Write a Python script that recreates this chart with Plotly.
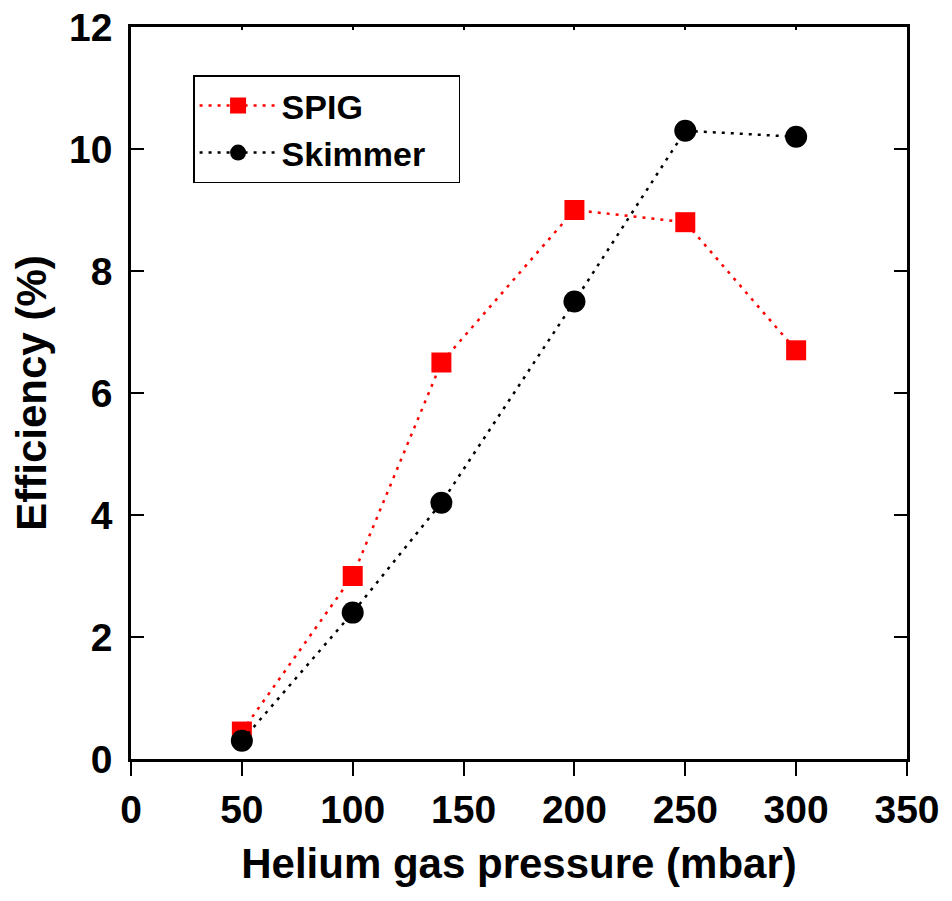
import plotly.graph_objects as go

pressure = [50, 100, 140, 200, 250, 300]
spig = [0.45, 3.0, 6.5, 9.0, 8.8, 6.7]
skimmer = [0.3, 2.4, 4.2, 7.5, 10.3, 10.2]
x_ticks = [0, 50, 100, 150, 200, 250, 300, 350]
y_ticks = [0, 2, 4, 6, 8, 10, 12]

FONT = "Liberation Sans, Arial, sans-serif"

fig = go.Figure()
fig.add_trace(go.Scatter(
    x=pressure, y=spig, name="SPIG", mode="lines+markers",
    line=dict(color="#ff0000", width=2.5, dash="3px,6px"),
    marker=dict(symbol="square", size=20, color="#ff0000"),
))
fig.add_trace(go.Scatter(
    x=pressure, y=skimmer, name="Skimmer   ", mode="lines+markers",
    line=dict(color="#000000", width=2.5, dash="3px,6px"),
    marker=dict(symbol="circle", size=22, color="#000000"),
))
# invisible trace to activate mirrored axes
fig.add_trace(go.Scatter(x=[x_ticks[0]], y=[y_ticks[0]], xaxis="x2", yaxis="y2",
                         mode="markers", marker=dict(opacity=0), showlegend=False,
                         hoverinfo="skip"))

common = dict(showgrid=False, zeroline=False, showline=True, linecolor="black",
              linewidth=2.5, tickcolor="black", tickwidth=2, automargin=False)

fig.update_layout(
    width=952, height=901,
    margin=dict(l=131, r=45, t=27, b=142),
    paper_bgcolor="white", plot_bgcolor="white",
    font=dict(family=FONT, color="black"),
    xaxis=dict(range=[0, 350], tickvals=x_ticks, ticks="outside", ticklen=14,
               tickfont=dict(size=39, family=FONT, weight="bold"),
               title=dict(text="<b>Helium gas pressure (mbar)</b>",
                          font=dict(size=42, family=FONT), standoff=20),
               **common),
    yaxis=dict(range=[0, 12], tickvals=y_ticks, ticks="inside", ticklen=13,
               tickfont=dict(size=39, family=FONT, weight="bold"),
               ticklabelstandoff=8,
               title=dict(text="<b>Efficiency (%)</b>",
                          font=dict(size=42, family=FONT), standoff=10),
               **common),
    xaxis2=dict(range=[0, 350], tickvals=x_ticks, overlaying="x", side="top",
                ticks="inside", ticklen=3, showticklabels=False, **common),
    yaxis2=dict(range=[0, 12], tickvals=y_ticks, overlaying="y", side="right",
                ticks="inside", ticklen=13, showticklabels=False, **common),
    legend=dict(x=0.08, y=0.934, xanchor="left", yanchor="top",
                bordercolor="black", borderwidth=1.5, bgcolor="white",
                font=dict(size=34, family=FONT, weight="bold"),
                itemwidth=77, tracegroupgap=0),
    showlegend=True,
)

fig.write_html("out.html")
